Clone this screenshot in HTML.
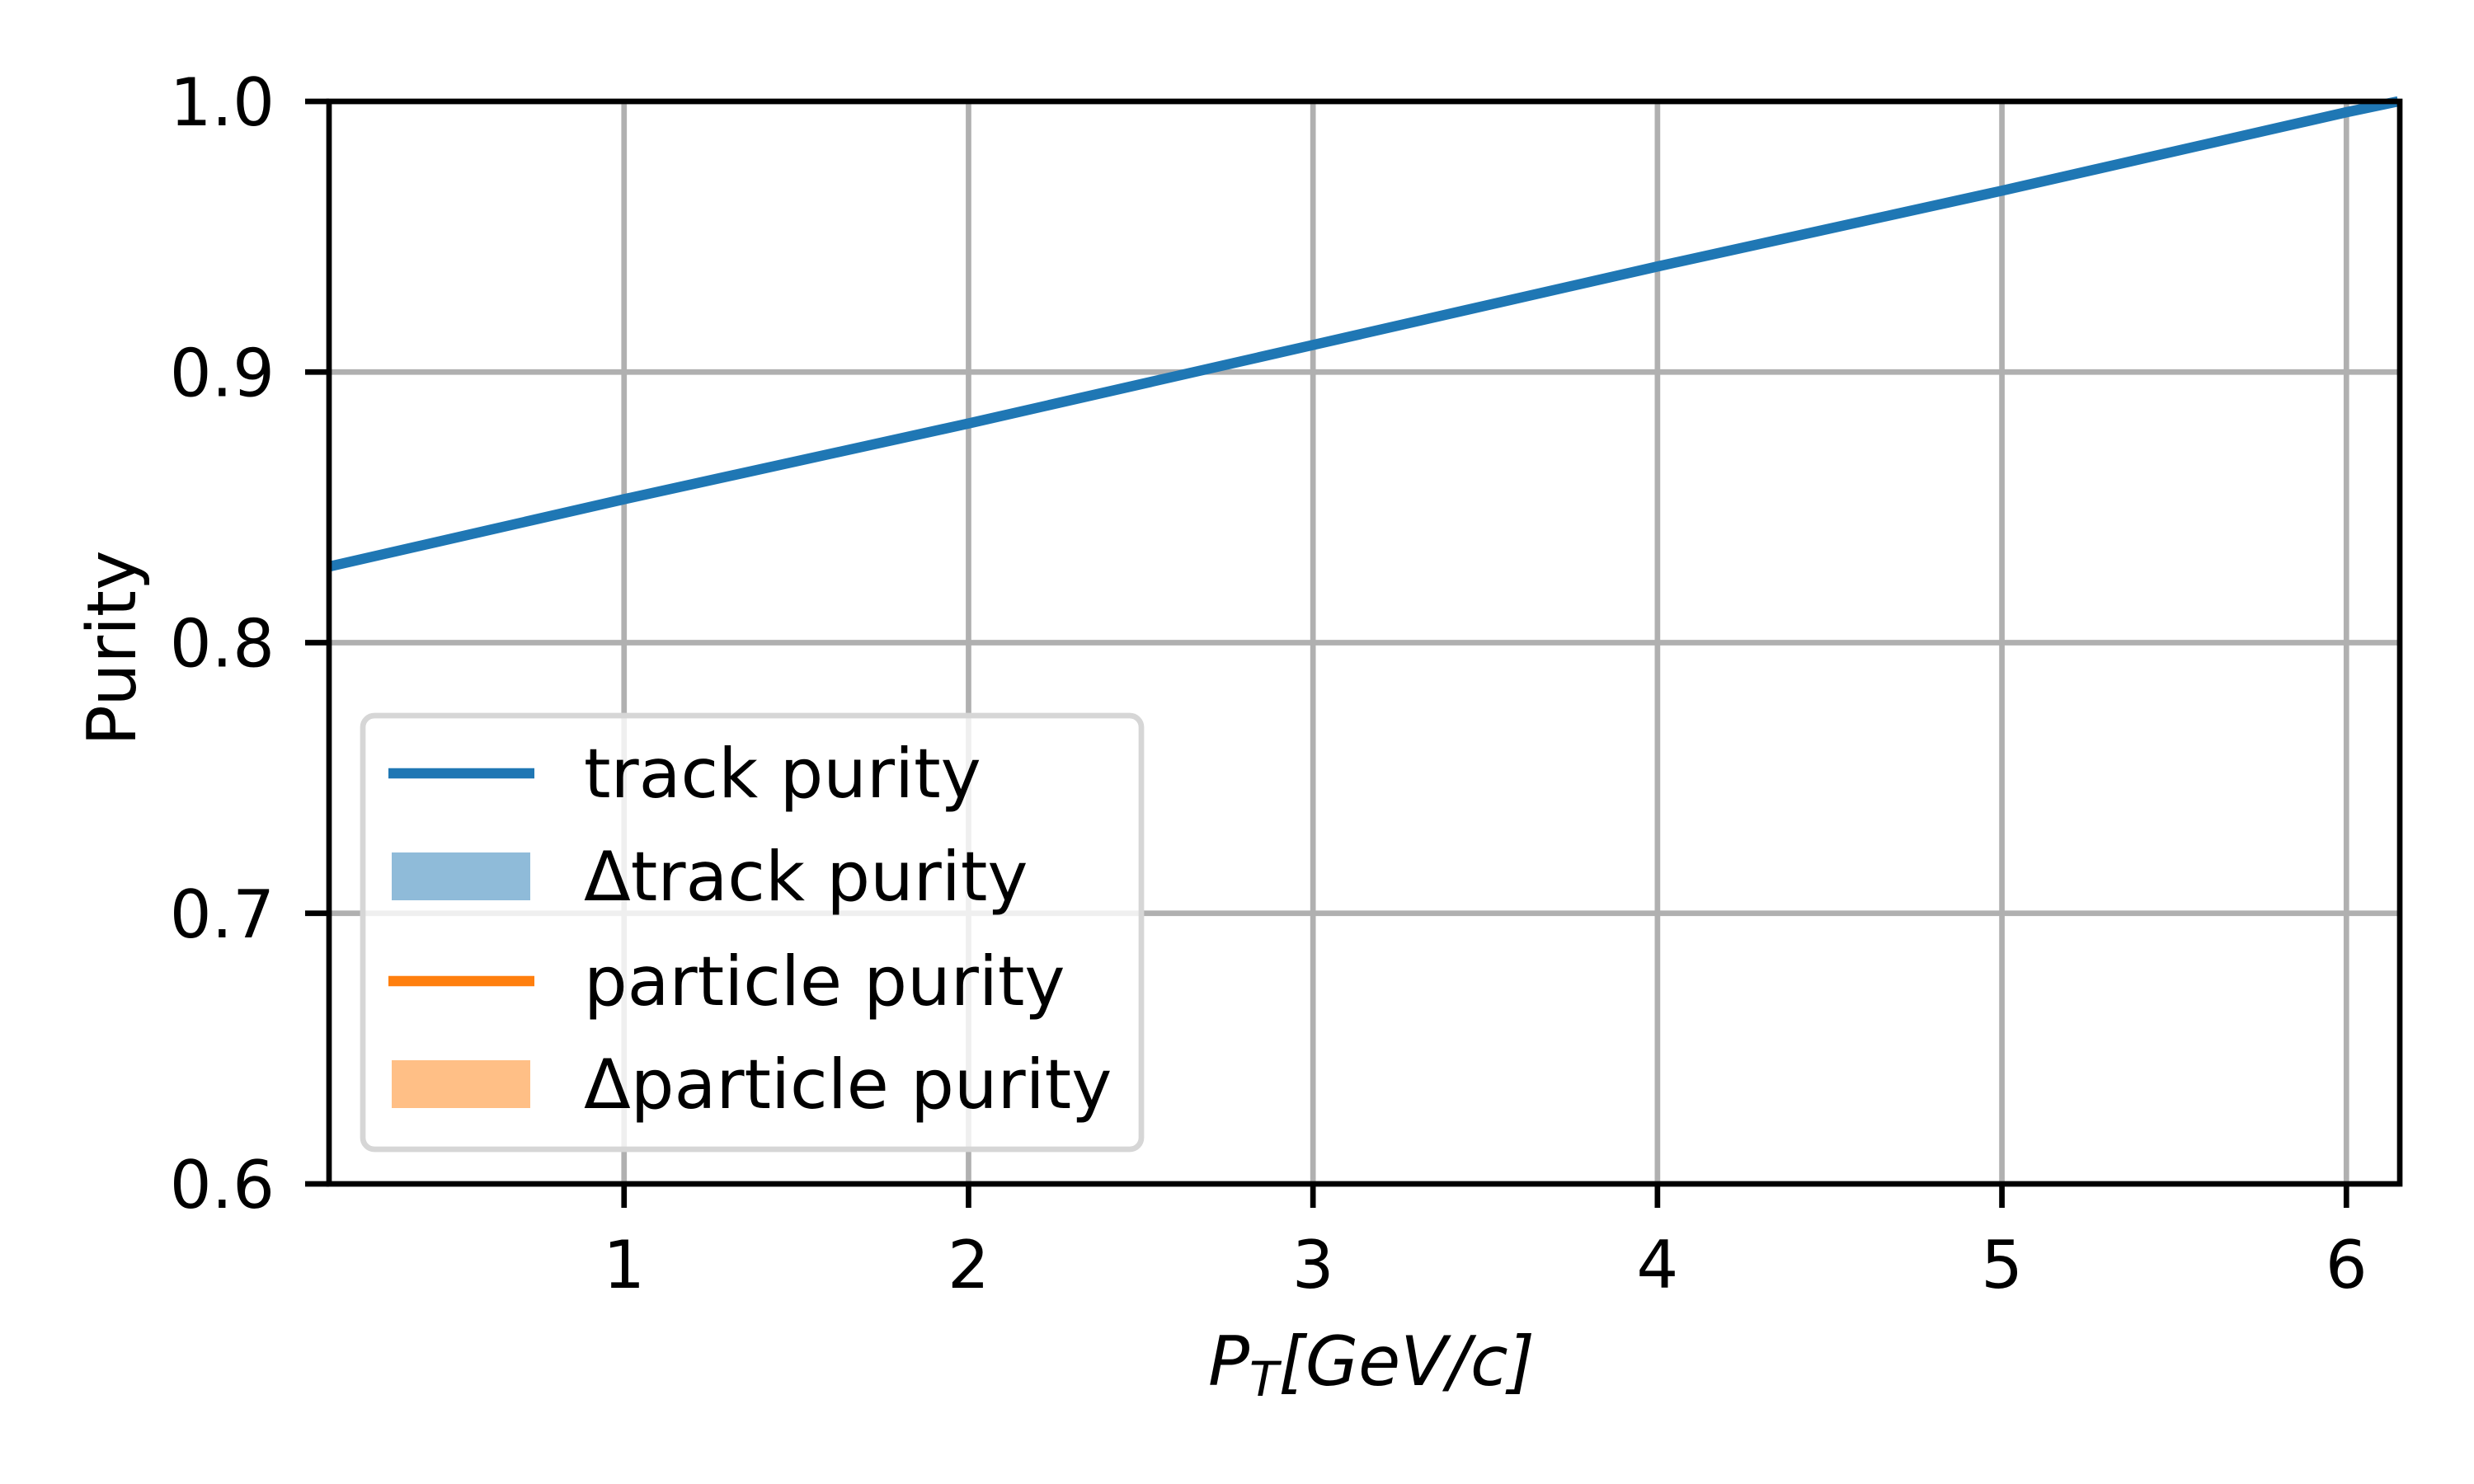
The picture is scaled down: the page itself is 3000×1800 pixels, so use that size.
<!DOCTYPE html>
<html><head><meta charset="utf-8"><style>
html,body{margin:0;padding:0;background:#fff;}
svg{display:block;font-family:"DejaVu Sans","Liberation Sans",sans-serif;}
</style></head><body>
<svg id="chart" width="3000" height="1800" viewBox="0 0 3000 1800">
<rect width="3000" height="1800" fill="#fff"/>
<g id="grid"></g>
<g id="series"></g>
<rect x="399" y="123" width="2511" height="1313" fill="none" stroke="#000" stroke-width="6.7"/>
<g id="ticks"></g>
<text x="1663" y="1680" font-size="83" font-style="italic" text-anchor="middle">P<tspan font-size="58" dy="13">T</tspan><tspan dy="-13">[GeV/c]</tspan></text>
<text transform="translate(164,786) rotate(-90)" font-size="82" text-anchor="middle">Purity</text>
<g>
<rect x="440" y="868" width="944" height="526" rx="14" fill="#fff" fill-opacity="0.8" stroke="#d6d6d6" stroke-width="6.7"/>
<line x1="471" y1="938" x2="648" y2="938" stroke="#1f77b4" stroke-width="12.5"/>
<text x="708" y="967" font-size="83">track purity</text>
<rect x="475" y="1034" width="168" height="58" fill="#8fbbd9"/>
<text x="708" y="1092" font-size="83">Δtrack purity</text>
<line x1="471" y1="1190" x2="648" y2="1190" stroke="#ff7f0e" stroke-width="12.5"/>
<text x="708" y="1219" font-size="83">particle purity</text>
<rect x="475" y="1286" width="168" height="58" fill="#ffbf86"/>
<text x="708" y="1344" font-size="83">Δparticle purity</text>
</g>
</svg>
<script>
const xTicks = [1,2,3,4,5,6];
const yTicks = [0.6,0.7,0.8,0.9,1.0];
const yTickLabels = ["0.6","0.7","0.8","0.9","1.0"];
const ptValues = [0.14,1,2,3,4,5,6,6.15];
const trackPurity = [0.828,0.853,0.881,0.910,0.939,0.967,0.996,1.0];
const X0=0.1435, X1=6.155, L=399, R=2910, T=123, B=1436;
function sx(v){return L+(v-X0)/(X1-X0)*(R-L);}
function sy(v){return B-(v-0.6)/0.4*(B-T);}
const NS="http://www.w3.org/2000/svg";
const grid=document.getElementById('grid'), ticks=document.getElementById('ticks'), series=document.getElementById('series');
function mk(tag,attrs,parent){const e=document.createElementNS(NS,tag);for(const k in attrs)e.setAttribute(k,attrs[k]);parent.appendChild(e);return e;}
xTicks.forEach(v=>{
  const x=sx(v);
  const g=mk('line',{x1:x,y1:T,x2:x,y2:B,stroke:'#b0b0b0','stroke-width':6.7},grid);
  
  
  const t=mk('line',{x1:x,y1:B,x2:x,y2:B+29,stroke:'#000','stroke-width':6.7},ticks);
  
  
  const l=mk('text',{x:x,y:1562,'font-size':80,'text-anchor':'middle'},ticks);
  l.textContent=String(v);
  
  
});
yTicks.forEach((v,i)=>{
  const y=sy(v);
  const g=mk('line',{x1:L,y1:y,x2:R,y2:y,stroke:'#b0b0b0','stroke-width':6.7},grid);
  
  
  const t=mk('line',{x1:L-29,y1:y,x2:L,y2:y,stroke:'#000','stroke-width':6.7},ticks);
  
  
  const l=mk('text',{x:333,y:y+29,'font-size':80,'text-anchor':'end'},ticks);
  l.textContent=yTickLabels[i];
  
  
});
const pts=ptValues.map((v,i)=>sx(v)+','+sy(trackPurity[i])).join(' ');
const line=mk('polyline',{points:pts,fill:'none',stroke:'#1f77b4','stroke-width':12.5,'stroke-linecap':'butt'},series);


</script>
</body></html>
